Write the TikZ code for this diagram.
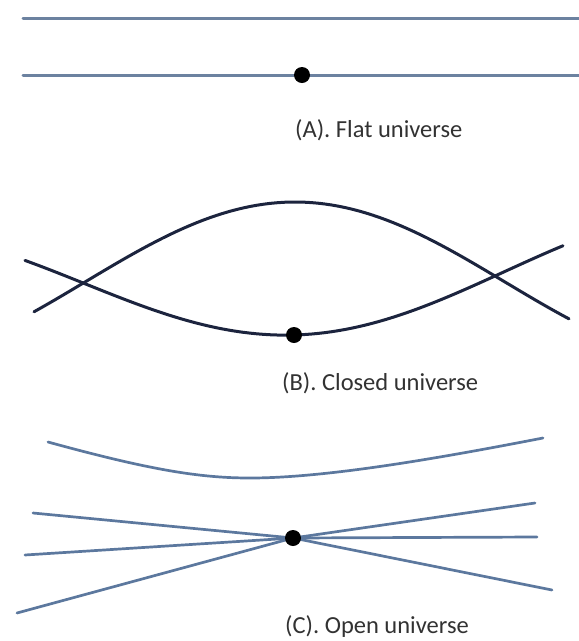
\documentclass[tikz,border=0pt]{standalone}
\usepackage{fontspec}
\setmainfont{Carlito}
\usetikzlibrary{positioning}
\definecolor{uniFlat}{RGB}{108,130,160}
\definecolor{uniClosed}{RGB}{28,36,62}
\definecolor{uniOpen}{RGB}{92,120,158}
\definecolor{uniText}{RGB}{50,50,50}
\tikzset{
  uni-line/.style={line width=3pt, line cap=round},
  uni-flat/.style={uni-line, draw=uniFlat},
  uni-closed/.style={uni-line, draw=uniClosed, line width=3pt},
  uni-open/.style={uni-line, draw=uniOpen, line width=2.7pt},
  uni-dot/.style={circle, fill=black, inner sep=0pt, minimum size=16pt},
  uni-label/.style={font=\fontsize{24.5}{29}\selectfont, text=uniText,
    anchor=west, inner sep=0pt}
}
\begin{document}
\begin{tikzpicture}[x=1pt, y=-1pt]
\useasboundingbox (0,0) rectangle (579,641);

% (A) flat
\coordinate (a1l) at (23,18);
\coordinate (a1r) at (579,18);
\coordinate (a2l) at (23,75);
\coordinate (a2r) at (579,75);
\draw[uni-flat] (a1l) -- (a1r);
\draw[uni-flat] (a2l) -- (a2r);
\node[uni-dot] (dotA) at (302,75) {};
\node[uni-label] (labA) at (295,130) {(A). Flat universe};

% (B) closed
\draw[uni-closed] plot[domain=34:569, samples=80]
  (\x, {202 + 80*(1-cos(0.428571*(\x-295)))});
\draw[uni-closed] plot[domain=25:563, samples=80]
  (\x, {335 - 57.4*(1-cos(0.428571*(\x-294))) - 0.0273*(\x-294)});
\node[uni-dot] (dotB) at (294,335) {};
\node[uni-label] (labB) at (282,383) {(B). Closed universe};

% (C) open
\coordinate (ctl) at (48,442);
\coordinate (ctm) at (250,478);
\coordinate (ctr) at (543,438);
\draw[uni-open] (ctl) .. controls (150,470) and (200,478) .. (ctm)
  .. controls (330,478) and (450,456) .. (ctr);
\coordinate (cc) at (293,538);
\foreach \ex/\ey [count=\i] in {33/513, 25/555, 17/613, 535/503, 537/537, 552/590}
  \coordinate (ce\i) at (\ex,\ey);
\foreach \i in {1,...,6}
  \draw[uni-open] (cc) -- (ce\i);
\node[uni-dot] (dotC) at (cc) {};
\node[uni-label] (labC) at (285,627) {(C). Open universe};
\end{tikzpicture}
\end{document}
